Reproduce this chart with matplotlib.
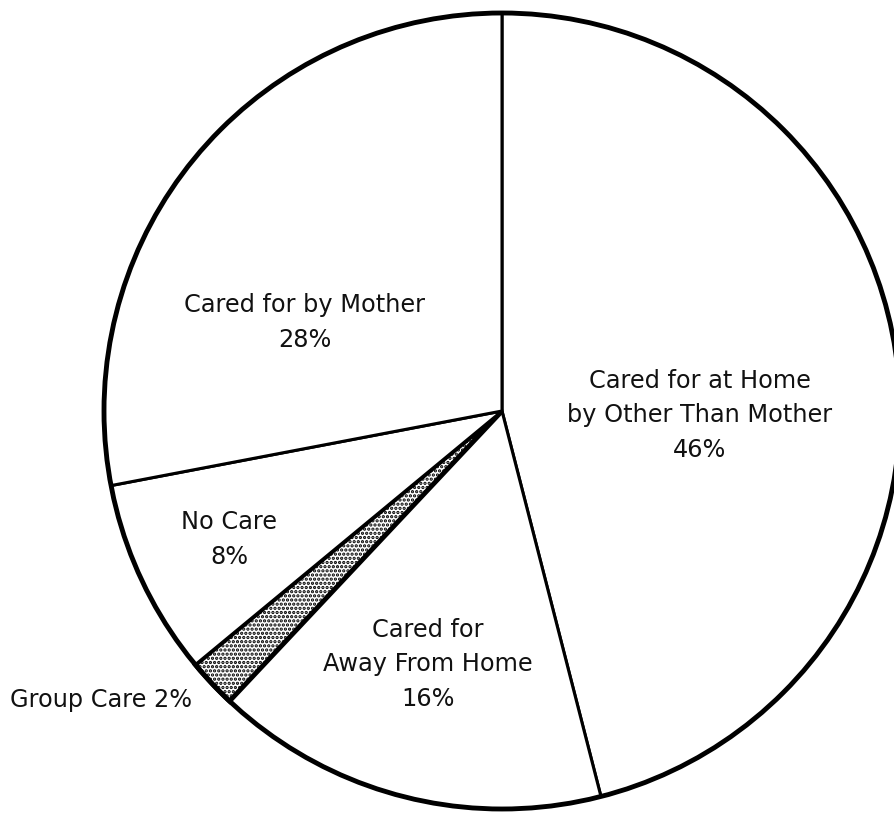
import matplotlib.pyplot as plt

plt.rcParams['hatch.linewidth'] = 1.6

# Hlutföll (réttsælis frá toppi)
flokkar = ['Cared for at Home\nby Other Than Mother', 'Cared for\nAway From Home',
           'Group Care', 'No Care', 'Cared for by Mother']
hlutfall = [46, 16, 2, 8, 28]

W, H = 895, 816
fig = plt.figure(figsize=(W / 100, H / 100), dpi=100)
ax = fig.add_axes([0, 0, 1, 1])

midja = (502, H - 411)
geisli = 398

wedges, _ = ax.pie(hlutfall, startangle=90, counterclock=False,
                   center=midja, radius=geisli,
                   colors=['white'] * len(hlutfall),
                   wedgeprops=dict(edgecolor='black', linewidth=2.2))
ax.set_xlim(0, W)
ax.set_ylim(0, H)
ax.set_aspect('equal')
ax.axis('off')

# Hópgæsla með punktamynstri
wedges[2].set_hatch('....')
wedges[2].set_linewidth(3.5)

# Þykkur hringur utan um
hringur = plt.Circle(midja, geisli, fill=False, edgecolor='black', linewidth=3.5)
ax.add_patch(hringur)

letur = dict(family=['DejaVu Sans'], fontsize=17.3, ha='center', va='baseline',
             color='#111111')

def texti(x, grunnlinur, linur, **kw):
    d = dict(letur)
    d.update(kw)
    for y, s in zip(grunnlinur, linur):
        ax.text(x, H - y, s, **d)

texti(305, [312, 347], ['Cared for by Mother', '28%'])
texti(700, [388, 422, 457], ['Cared for at Home', 'by Other Than Mother', '46%'])
texti(229, [529, 564], ['No Care', '8%'])
texti(428, [637, 671, 706], ['Cared for', 'Away From Home', '16%'])
texti(10, [707], ['Group Care 2%'], ha='left')

plt.savefig('out.png', dpi=100)
plt.close()
